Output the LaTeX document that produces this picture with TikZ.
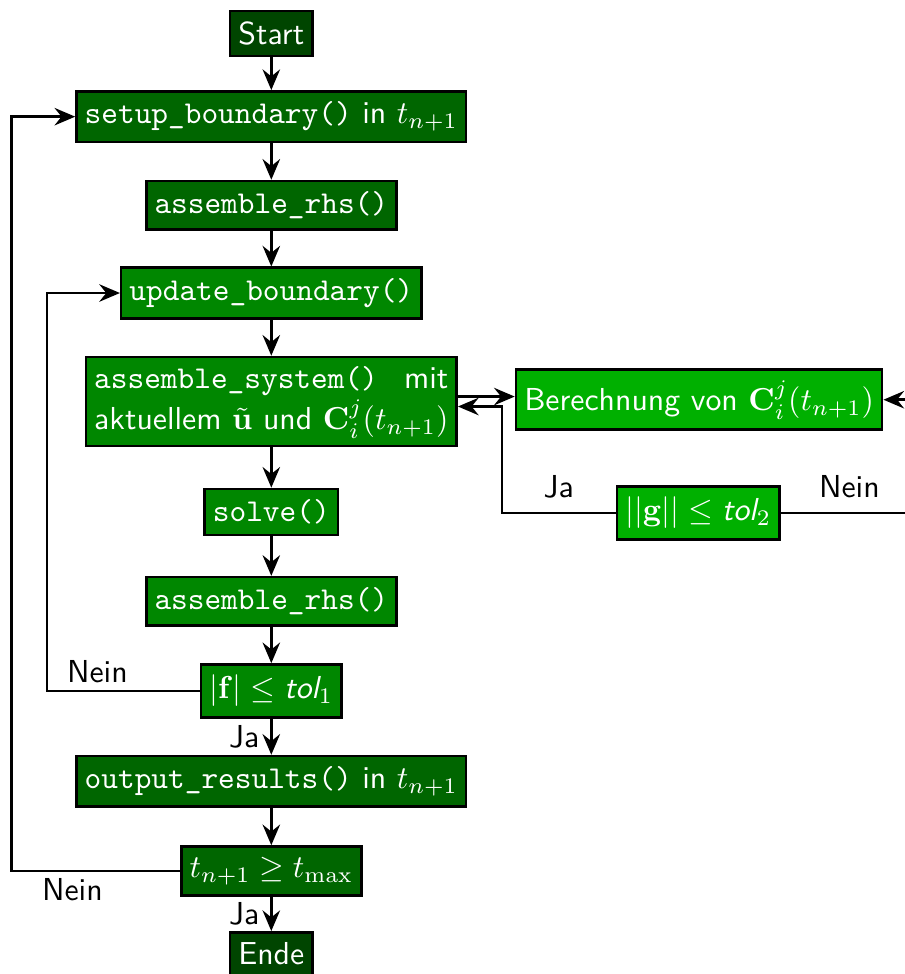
\documentclass[tikz,border=0pt]{standalone}
\usetikzlibrary{arrows.meta}

\begin{document}
\begin{tikzpicture}[
  font=\sffamily,
  >={Stealth[length=6.5pt,width=5.5pt,inset=2.2pt]},
  box/.style={draw=black,thick,text=white,inner xsep=2.6pt},
  endbox/.style={box,fill=green!27!black},
  outerbox/.style={box,fill=green!40!black},
  innerbox/.style={box,fill=green!53!black},
  calcbox/.style={box,fill=green!69!black},
  flow/.style={->,thick},
  lbl/.style={inner sep=2pt}
]
\useasboundingbox (0,0) rectangle (10,-10.77);
\coordinate (outer) at (0.13,0);
\coordinate (inner) at (0.52,0);
\coordinate (back) at (5.55,0);
\coordinate (far) at (10.25,0);
\node (start) [endbox] at (3.0,-0.37) {Start};
\node (setup) [outerbox] at (3.0,-1.29) {\texttt{setup\_boundary()} in $t_{n+1}$};
\node (rhsA) [outerbox] at (3.0,-2.27) {\texttt{assemble\_rhs()}};
\node (update) [innerbox] at (3.0,-3.24) {\texttt{update\_boundary()}};
\node (system) [innerbox,inner ysep=1.5pt] at (3.0,-4.44) {\begin{tabular}{@{}l@{}}\texttt{assemble\_system()}\hfill mit\\ aktuellem $\tilde{\mathbf{u}}$ und $\mathbf{C}_i^j(t_{n+1})$\end{tabular}};
\node (calc) [calcbox] at (7.73,-4.42) {Berechnung von $\mathbf{C}_i^j(t_{n+1})$};
\node (gtest) [calcbox] at (7.72,-5.67) {$||\mathbf{g}|| \leq \textit{tol}_2$};
\node (solve) [innerbox] at (3.0,-5.66) {\texttt{solve()}};
\node (rhsB) [innerbox] at (3.0,-6.65) {\texttt{assemble\_rhs()}};
\node (ftest) [innerbox] at (3.0,-7.64) {$|\mathbf{f}| \leq \textit{tol}_1$};
\node (output) [outerbox] at (3.0,-8.64) {\texttt{output\_results()} in $t_{n+1}$};
\node (ttest) [outerbox] at (3.0,-9.63) {$t_{n+1} \geq t_{\max}$};
\node (ende) [endbox] at (3.0,-10.55) {Ende};
\draw [flow] (start) -- (setup);
\draw [flow] (setup) -- (rhsA);
\draw [flow] (rhsA) -- (update);
\draw [flow] (update) -- (system);
\draw [flow] (system) -- (solve);
\draw [flow] (solve) -- (rhsB);
\draw [flow] (rhsB) -- (ftest);
\draw [flow] (ftest) -- (output) node[midway,left] {Ja};
\draw [flow] (output) -- (ttest);
\draw [flow] (ttest) -- (ende) node[midway,left] {Ja};
\draw [flow] (ftest.west) -- (ftest.west -| inner) node[lbl,pos=0.67,above] {Nein} |- (update.west);
\draw [flow] (ttest.west) -- (ttest.west -| outer) node[lbl,pos=0.64,below] {Nein} |- (setup.west);
\draw [flow] ([yshift=0.55mm]system.east) -- ([yshift=0.55mm]system.east -| calc.west);
\draw [flow] (gtest.west) -- (gtest.west -| back) node[midway,above=1pt] {Ja} |- ([yshift=-0.55mm]system.east);
\draw [flow] (gtest.east) -- (gtest.east -| far) node[pos=0.47,above=1pt] {Nein} |- (calc.east);
\end{tikzpicture}
\end{document}
